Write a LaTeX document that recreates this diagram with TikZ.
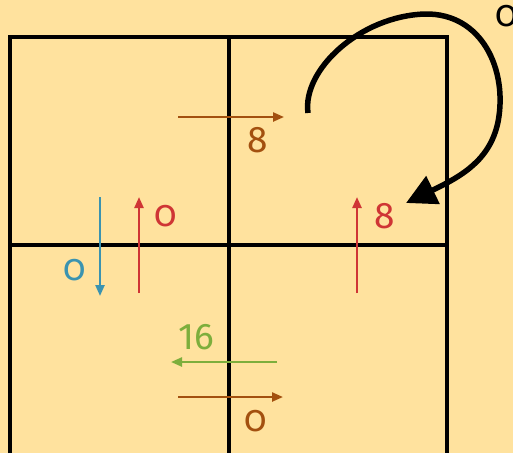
\documentclass[tikz,border=0pt]{standalone}
\usepackage{fontspec}
\setmainfont{Fira Sans}[Numbers=OldStyle]
\usetikzlibrary{arrows.meta}
\definecolor{bg}{HTML}{FFE29E}
\definecolor{cor}{HTML}{A3500F}
\definecolor{cgr}{HTML}{7DAE3C}
\definecolor{cbl}{HTML}{3A93B0}
\definecolor{crd}{HTML}{CF3535}
\begin{document}
\begin{tikzpicture}[x=1pt,y=-1pt,
  gridline/.style={line width=3.6pt},
  flow/.style={line width=2.3pt,-{Triangle[length=11pt,width=9pt]}},
  lab/.style={font=\fontsize{37}{37}\selectfont, inner sep=0pt}]
\fill[bg] (0,0) rectangle (513,453);
\useasboundingbox (0,0) rectangle (513,453);
% grid
\draw[gridline] (10,453) -- (10,37) -- (447,37) -- (447,453);
\draw[gridline] (229,37) -- (229,453);
\draw[gridline] (10,245) -- (447,245);
% endpoints
\coordinate (a1) at (178,117); \coordinate (a2) at (284,117);
\coordinate (b1) at (178,397); \coordinate (b2) at (283,397);
\coordinate (g1) at (277,362); \coordinate (g2) at (171,362);
\coordinate (u1) at (100,197); \coordinate (u2) at (100,296);
\coordinate (r1) at (139,293); \coordinate (r2) at (139,197);
\coordinate (s1) at (357,293); \coordinate (s2) at (357,197);
\coordinate (c1) at (308,113); \coordinate (c2) at (406,203);
% arrows
\draw[flow,cor] (a1) -- (a2);
\draw[flow,cor] (b1) -- (b2);
\draw[flow,cgr] (g1) -- (g2);
\draw[flow,cbl] (u1) -- (u2);
\draw[flow,crd] (r1) -- (r2);
\draw[flow,crd] (s1) -- (s2);
\draw[line width=5.5pt,-{Triangle[length=30pt,width=30pt]}] (c1) .. controls (302,70) and (360,16) .. (425,14)
  .. controls (482,13) and (508,70) .. (498,122) .. controls (490,160) and (462,176) .. (c2);
% labels
\node[lab,cor] (l1) at (258,140) {8};
\node[lab,cor] (l2) at (256,421) {0};
\node[lab,cgr] (l3) at (196,337) {\addfontfeatures{Numbers=Lining}16};
\node[lab,cbl] (l4) at (75,270) {0};
\node[lab,crd] (l5) at (166,216) {0};
\node[lab,crd] (l6) at (385,216) {8};
\node[lab] (l7) at (507,16) {0};
\end{tikzpicture}
\end{document}
